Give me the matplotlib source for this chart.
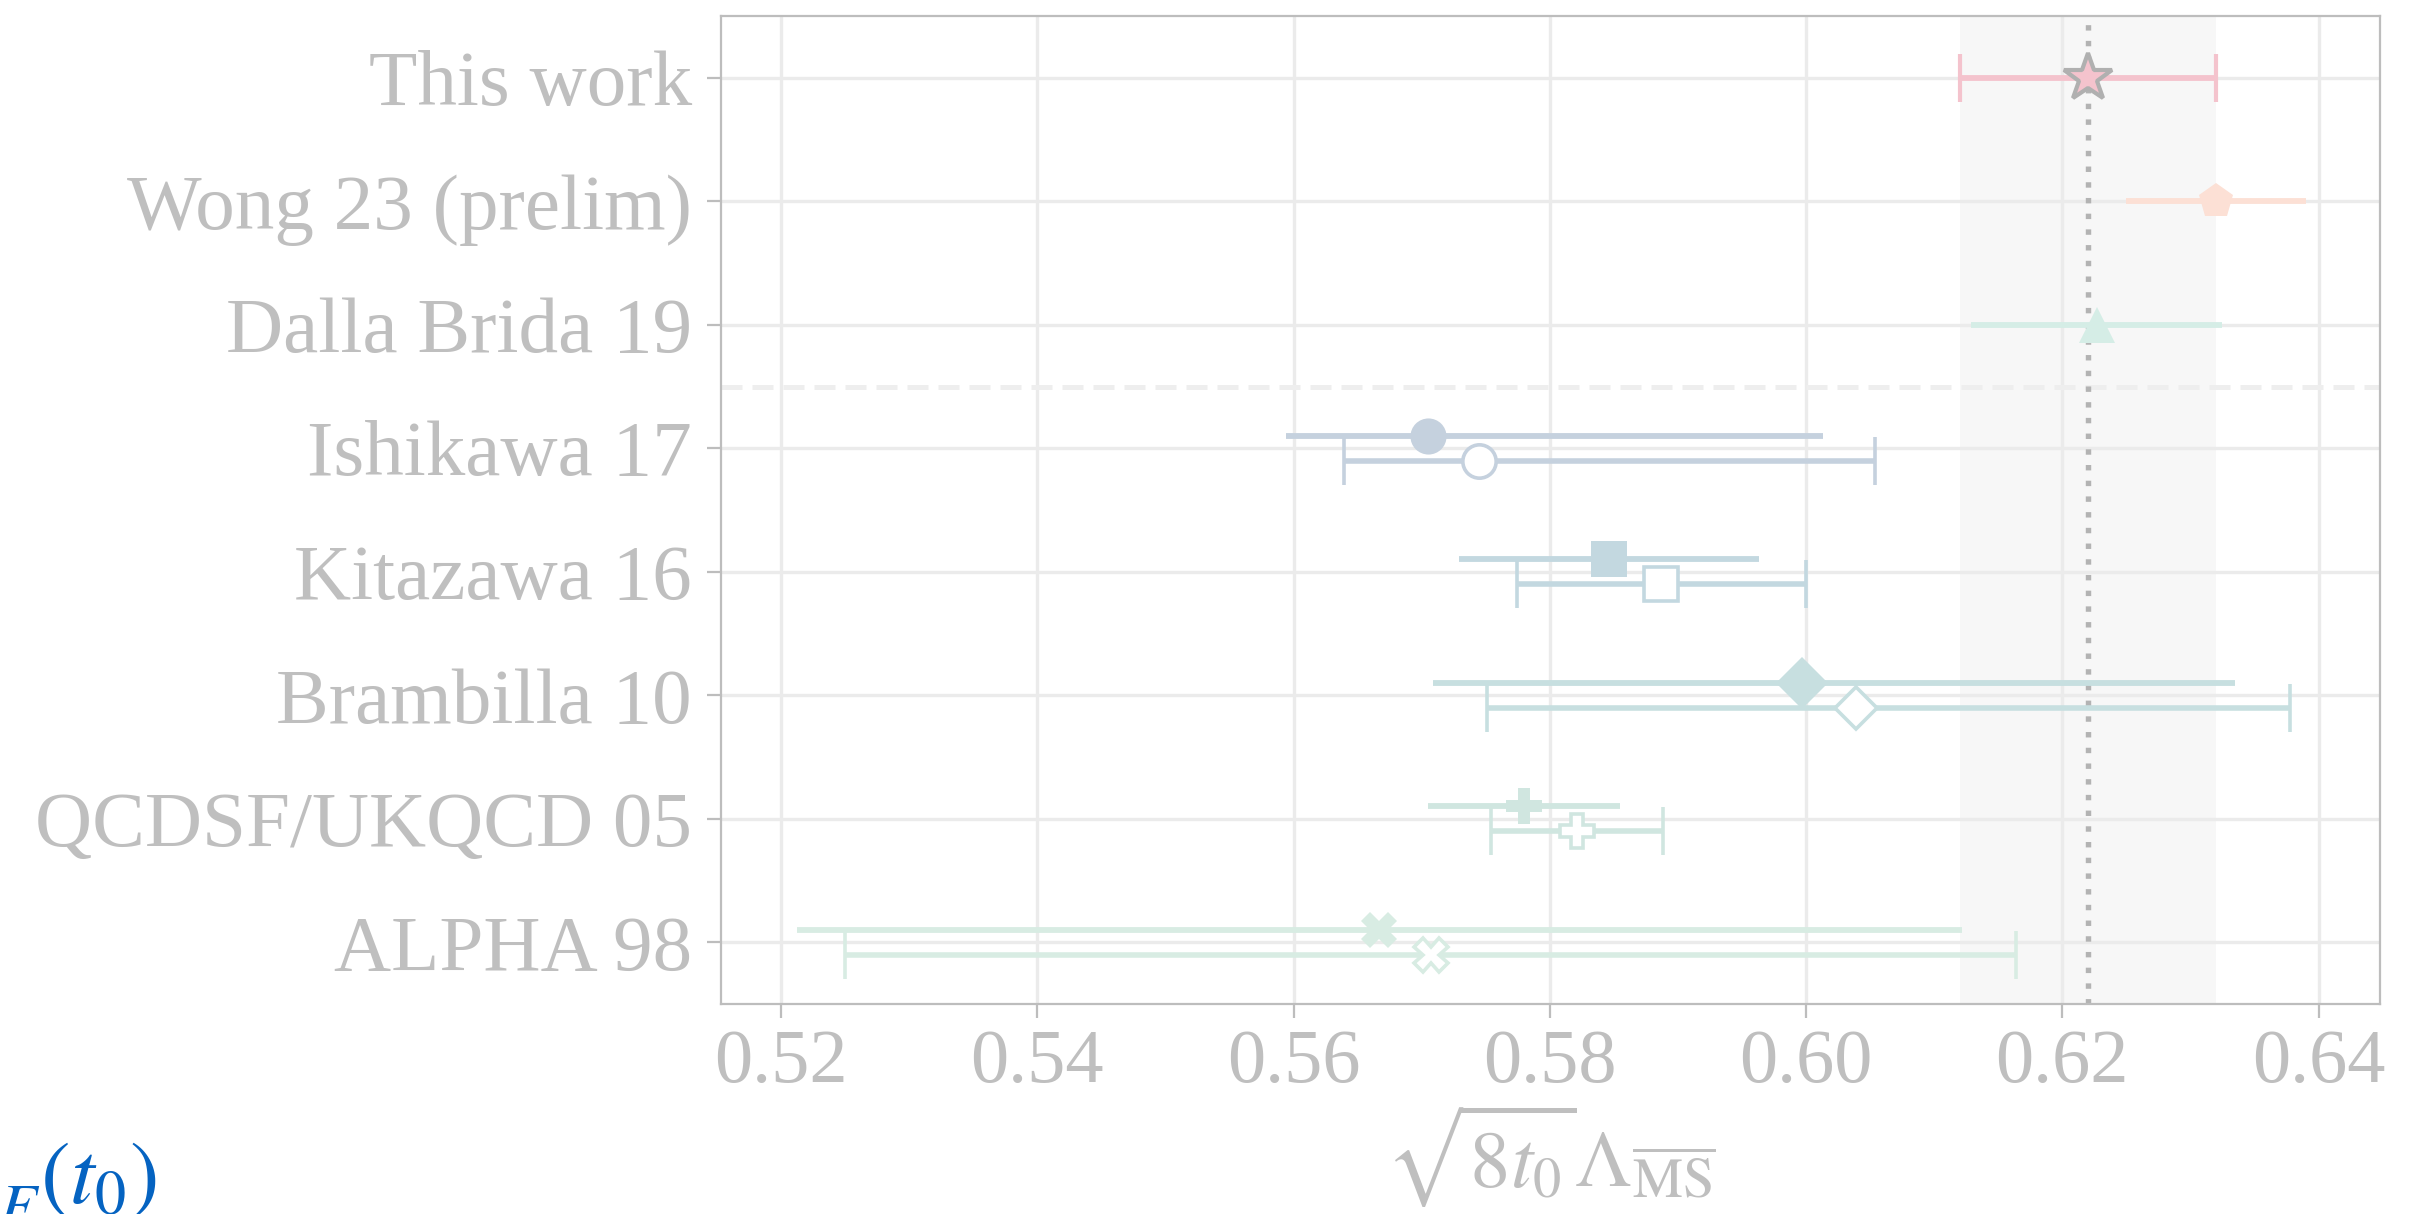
import matplotlib
matplotlib.use("Agg")
import matplotlib.pyplot as plt

# Determinations of sqrt(8 t0) * Lambda_MSbar, top to bottom
labels = ["This work", "Wong 23 (prelim)", "Dalla Brida 19", "Ishikawa 17",
          "Kitazawa 16", "Brambilla 10", "QCDSF/UKQCD 05", "ALPHA 98"]
markers = ["*", "p", "^", "o", "s", "D", "P", "X"]
colors = ["#f4c3cd", "#fce0d5", "#d5ede6", "#c5d1de",
          "#c3d8e0", "#c7dfe0", "#d0e6e0", "#d8ece3"]

# primary (filled) values with lower / upper errors
main_val = [0.6220, 0.6320, 0.6227, 0.5705, 0.5846, 0.5997, 0.5780, 0.5667]
main_lo = [0.0100, 0.0070, 0.0098, 0.0111, 0.0117, 0.0288, 0.0075, 0.0455]
main_hi = [0.0100, 0.0070, 0.0098, 0.0308, 0.0117, 0.0338, 0.0075, 0.0455]

# secondary (open) values; None where a row has only one result
alt_val = [None, None, None, 0.5745, 0.5887, 0.6039, 0.5821, 0.5707]
alt_lo = [None, None, None, 0.0106, 0.0113, 0.0288, 0.0067, 0.0457]
alt_hi = [None, None, None, 0.0309, 0.0113, 0.0339, 0.0067, 0.0457]

# reference band from this work
band_center = 0.622
band_err = 0.010

xticks = [0.52, 0.54, 0.56, 0.58, 0.60, 0.62, 0.64]

plt.rcParams["font.family"] = ["Liberation Serif", "DejaVu Serif"]
plt.rcParams["mathtext.fontset"] = "stix"

W, H = 2433, 1214
fig = plt.figure(figsize=(W / 100, H / 100), dpi=100)
ax = fig.add_axes([721 / W, 1 - 1004 / H, (2380 - 721) / W, (1004 - 16) / H])

grey_text = "#bfbfbf"
spine_col = "#bdbdbd"

ax.axvspan(band_center - band_err, band_center + band_err,
           color="#f7f7f7", zorder=0.1, lw=0)
ax.axvline(band_center, color="#b3b3b3", lw=3.9, ls=(0, (1, 1.9)),
           dash_capstyle="butt", zorder=1.5)
ax.axhline(2.5, color="#eeeeee", lw=3.6, ls=(0, (4.2, 2.0)), zorder=0.6)

off = 0.1
for i in range(len(labels)):
    c = colors[i]
    has_alt = alt_val[i] is not None
    y0 = i - off if has_alt else i
    if markers[i] == "*":
        ms, mec, mew = 36, "#b0b0b0", 3.0
    else:
        ms, mec, mew = 26, c, 0
    ax.errorbar([main_val[i]], [y0], xerr=[[main_lo[i]], [main_hi[i]]],
                fmt=markers[i], ms=ms, mfc=c, mec=mec, mew=mew,
                ecolor=c, elinewidth=4.2, capsize=17, capthick=3.2, zorder=3)
    if has_alt:
        ms2 = 26 if markers[i] != "D" else 23
        ax.errorbar([alt_val[i]], [i + off], xerr=[[alt_lo[i]], [alt_hi[i]]],
                    fmt=markers[i], ms=ms2 - 2, mfc="white", mec=c, mew=2.6,
                    ecolor=c, elinewidth=4.0, capsize=17, capthick=3.2, zorder=3)

ax.set_xlim(0.5153, 0.6448)
ax.set_ylim(7.5, -0.5)
ax.set_yticks(range(len(labels)))
ax.set_yticklabels(labels)
ax.set_xticks(xticks)
ax.set_xticklabels([f"{t:.2f}" for t in xticks])

ax.grid(True, color="#ebebeb", lw=2.4)
ax.set_axisbelow(True)

for s in ax.spines.values():
    s.set_color(spine_col)
    s.set_linewidth(1.6)

ax.tick_params(axis="both", colors=spine_col, labelcolor=grey_text,
               length=10, width=1.6)
ax.tick_params(axis="y", pad=11, labelsize=57)
ax.tick_params(axis="x", pad=8, labelsize=55)

ax.set_xlabel(r"$\sqrt{8t_0}\Lambda_{\overline{\rm MS}}$", fontsize=58,
              color=grey_text, labelpad=2)

fig.text(157 / W, 1 - 1203 / H, r"$g^2_{GF}(t_0)$", color="#0563c1",
         fontsize=64, ha="right", va="baseline")

fig.savefig("out.png", dpi=100, facecolor="white")
